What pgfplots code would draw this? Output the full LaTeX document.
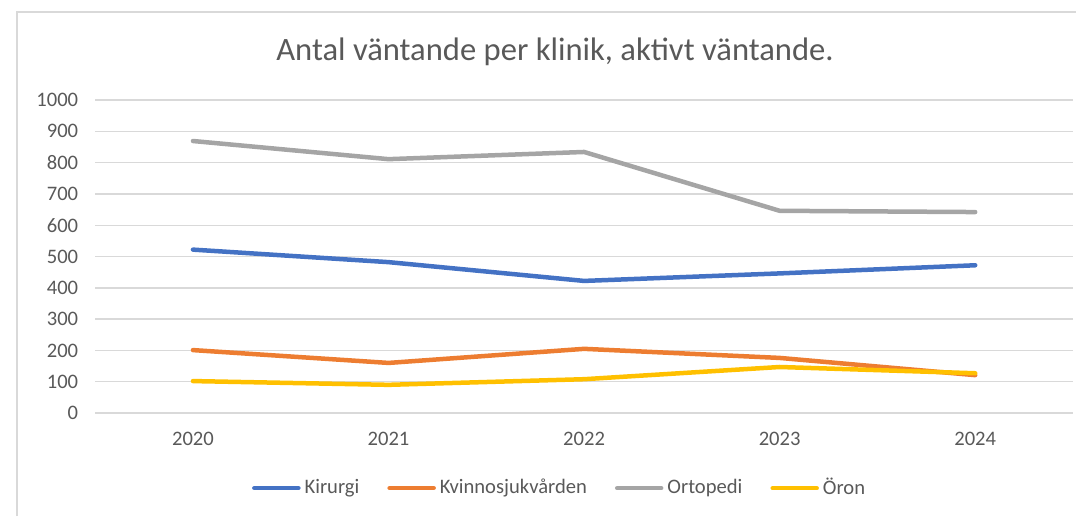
\documentclass[border=0pt]{standalone}
\usepackage{pgfplots}
\pgfplotsset{compat=1.18}
\usepackage{fontspec}
\setmainfont{Carlito}
\definecolor{cKir}{HTML}{4472C4}
\definecolor{cKvi}{HTML}{ED7D31}
\definecolor{cOrt}{HTML}{A5A5A5}
\definecolor{cOro}{HTML}{FFC000}
\definecolor{cGrid}{HTML}{D9D9D9}
\definecolor{cText}{HTML}{595959}
\begin{document}
\begin{tikzpicture}[x=1pt,y=1pt]
\path[use as bounding box] (0,0) rectangle (538,258);
\draw[cGrid,line width=0.8pt] (8.5,0) -- (8.5,252) -- (538,252);
\node[text=cText,font=\fontsize{16.3}{19}\selectfont] at (277.5,232) {Antal väntande per klinik, aktivt väntande.};
\begin{axis}[
  at={(47.6pt,51.5pt)}, anchor=south west,
  scale only axis, width=488.9pt, height=156.5pt,
  xmin=-0.5, xmax=4.5, ymin=0, ymax=1000,
  xtick={0,1,2,3,4}, xticklabels={2020,2021,2022,2023,2024},
  ytick={0,100,...,1000},
  axis line style={draw=none},
  major tick length=0pt,
  ymajorgrids, grid style={cGrid,line width=0.7pt},
  /pgf/number format/assume math mode=true,
  /pgf/number format/1000 sep={},
  tick label style={text=cText,font=\fontsize{10.3}{12}\selectfont},
  yticklabel style={anchor=east,xshift=-5pt},
  xticklabel style={yshift=-6pt},
  legend columns=4,
  legend style={draw=none,fill=none,at={(0.476,-0.24)},anchor=center,
    font=\fontsize{10.3}{12}\selectfont,text=cText,
    /tikz/every even column/.append style={column sep=12pt}},
  legend image code/.code={\draw[#1,line width=2.25pt,line cap=round] (0pt,0pt) -- (22pt,0pt);},
  every axis plot/.append style={line width=2.25pt,line join=round,line cap=round,no markers},
]
\addplot[cKir] coordinates {(0,522) (1,482) (2,422) (3,446) (4,472)};
\addlegendentry{Kirurgi}
\addplot[cKvi] coordinates {(0,201) (1,160) (2,205) (3,176) (4,121)};
\addlegendentry{Kvinnosjukvården}
\addplot[cOrt] coordinates {(0,869) (1,811) (2,834) (3,646) (4,642)};
\addlegendentry{Ortopedi}
\addplot[cOro] coordinates {(0,102) (1,90) (2,108) (3,147) (4,127)};
\addlegendentry{Öron}
\end{axis}
\end{tikzpicture}
\end{document}
